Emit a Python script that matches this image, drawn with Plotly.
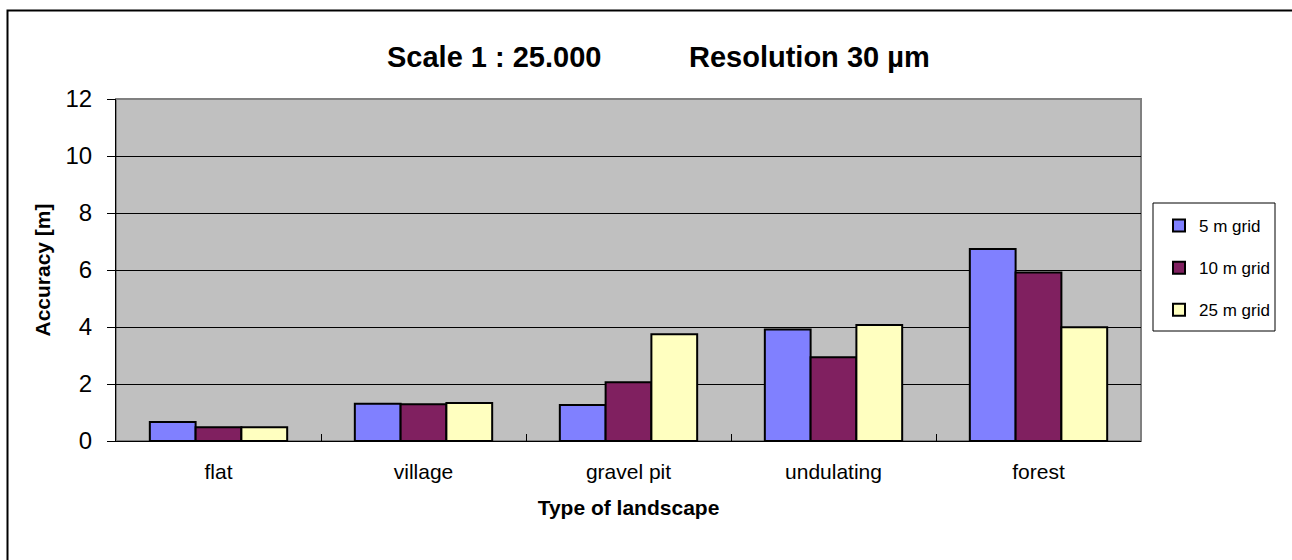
import plotly.graph_objects as go

# Landscape categories and accuracy values per grid spacing
landscapes = ["flat", "village", "gravel pit", "undulating", "forest"]
grid_5m = [0.67, 1.31, 1.26, 3.91, 6.74]
grid_10m = [0.48, 1.29, 2.06, 2.94, 5.91]
grid_25m = [0.48, 1.33, 3.75, 4.07, 3.99]

series_names = ["5 m grid", "10 m grid", "25 m grid"]
series_colors = ["#8080FF", "#802060", "#FFFFC0"]
y_ticks = [0, 2, 4, 6, 8, 10, 12]

FONT = "Liberation Sans, Arial, sans-serif"

fig = go.Figure()
for i, (name, vals, col) in enumerate(zip(series_names, [grid_5m, grid_10m, grid_25m], series_colors)):
    fig.add_trace(go.Bar(
        x=landscapes, y=vals, name=name,
        marker=dict(color=col, line=dict(color="black", width=2)),
        legendgroup=f"g{i}",
    ))

W, H = 1292, 560
ML, MR, MT, MB = 116, 151, 99, 119
PW, PH = W - ML - MR, H - MT - MB


def px_x(px):
    return (px - ML) / PW


def px_y(py):
    return (H - MB - py) / PH


fig.update_layout(
    width=W, height=H,
    margin=dict(l=ML, r=MR, t=MT, b=MB, pad=0),
    paper_bgcolor="white",
    plot_bgcolor="#C0C0C0",
    barmode="group",
    bargap=0.33,
    bargroupgap=0,
    font=dict(family=FONT, color="black"),
    showlegend=True,
    legend=dict(
        x=px_x(1159), y=px_y(208), xanchor="left", yanchor="top",
        borderwidth=0, bgcolor="rgba(0,0,0,0)",
        font=dict(size=17, family=FONT),
        traceorder="grouped", tracegroupgap=17,
        itemwidth=30,
    ),
    xaxis=dict(
        showline=True, linecolor="black", linewidth=1,
        ticks="inside", ticklen=7, tickcolor="black", tickson="boundaries",
        tickfont=dict(size=21, family=FONT),
        ticklabelstandoff=12,
        title=dict(text="<b>Type of landscape</b>", font=dict(size=21, family=FONT), standoff=18),
        showgrid=False,
    ),
    yaxis=dict(
        range=[0, 12], tickvals=y_ticks,
        showline=True, linecolor="black", linewidth=1,
        ticks="outside", ticklen=8, tickcolor="black",
        tickfont=dict(size=24, family=FONT),
        ticklabelstandoff=10,
        showgrid=True, gridcolor="black", gridwidth=1,
        zeroline=False,
        title=dict(text="<b>Accuracy [m]</b>", font=dict(size=21, family=FONT), standoff=9),
    ),
    shapes=[
        # grey frame around the plot area
        dict(type="rect", xref="paper", yref="paper", x0=0, x1=1, y0=0, y1=1,
             line=dict(color="#808080", width=2), layer="below"),
        # legend box
        dict(type="rect", xref="paper", yref="paper",
             x0=px_x(1153), x1=px_x(1275), y0=px_y(331), y1=px_y(203),
             line=dict(color="black", width=1), fillcolor="white", layer="below"),
        # outer chart border
        dict(type="rect", xref="paper", yref="paper",
             x0=px_x(7.5), x1=px_x(1300), y0=px_y(600), y1=px_y(10.5),
             line=dict(color="black", width=2), layer="below"),
    ],
    annotations=[
        dict(text="<b>Scale 1 : 25.000</b>", xref="paper", yref="paper",
             x=px_x(493.5), y=px_y(57), xanchor="center", yanchor="middle",
             showarrow=False, font=dict(size=29, family=FONT)),
        dict(text="<b>Resolution 30 µm</b>", xref="paper", yref="paper",
             x=px_x(809), y=px_y(57), xanchor="center", yanchor="middle",
             showarrow=False, font=dict(size=29, family=FONT)),
    ],
)

fig.write_html("out.html")
